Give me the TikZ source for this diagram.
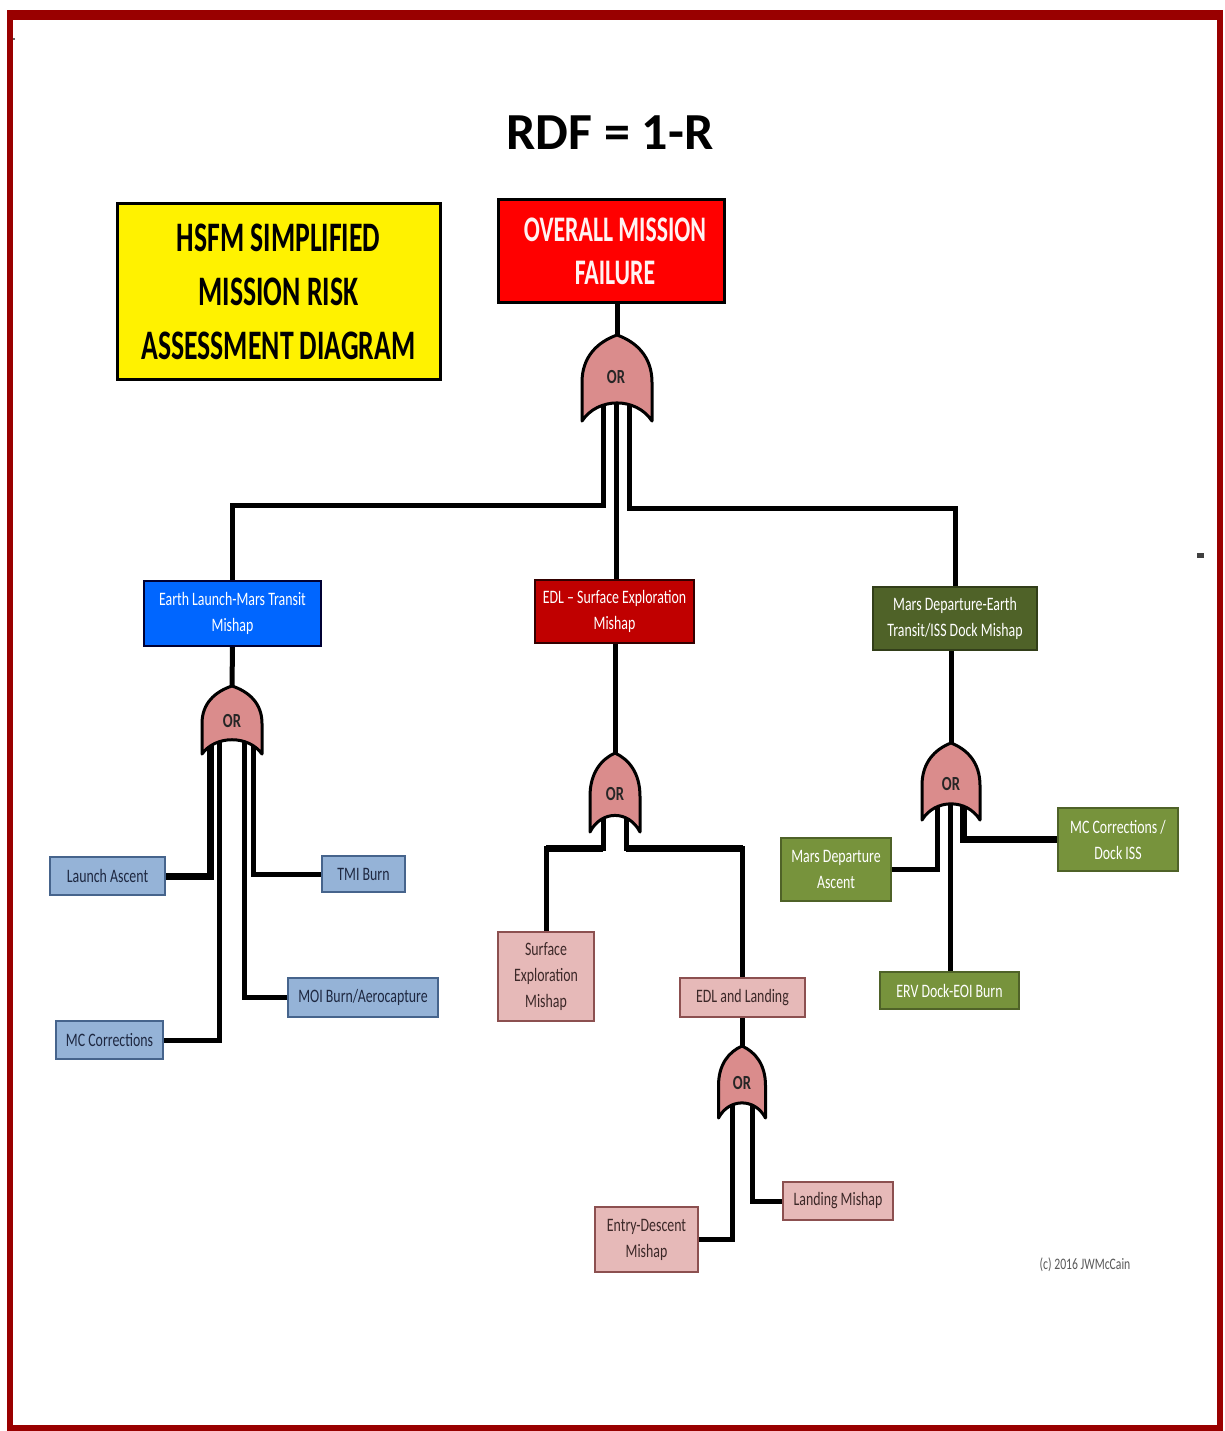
\documentclass[tikz,border=0pt]{standalone}
\usepackage{fontspec}
\setmainfont{Carlito}
\newfontfamily\condfont[FakeStretch=0.73,Ligatures=TeX]{Carlito}
\newfontfamily\headfont[FakeStretch=0.66,Ligatures=TeX]{Carlito}
\pgfdeclarelayer{bg}
\pgfsetlayers{bg,main}
\definecolor{framered}{RGB}{153,0,0}
\definecolor{lblue}{RGB}{149,179,215}
\definecolor{lblueborder}{RGB}{70,100,140}
\definecolor{lbtext}{RGB}{30,40,65}
\definecolor{pink1}{RGB}{230,185,184}
\definecolor{pinkborder}{RGB}{140,80,80}
\definecolor{pktext}{RGB}{60,40,40}
\definecolor{olive}{RGB}{119,147,60}
\definecolor{olivedark}{RGB}{79,98,40}
\definecolor{olivebord}{RGB}{50,62,25}
\definecolor{brightblue}{RGB}{0,102,255}
\definecolor{darkred}{RGB}{192,0,0}
\definecolor{gatefill}{RGB}{218,140,140}
\definecolor{paleWhite}{RGB}{255,242,242}
\tikzset{
  wire/.style={line width=5pt, draw=black},
  thickwire/.style={line width=7pt, draw=black},
  box/.style={draw, line width=1.5pt, align=center, inner sep=0pt,
    font=\condfont\fontsize{19}{26}\selectfont},
  lbbox/.style={box, fill=lblue, draw=lblueborder, text=lbtext},
  pkbox/.style={box, fill=pink1, draw=pinkborder, text=pktext},
  gnbox/.style={box, fill=olive, draw=olivedark, text=white},
  gatebody/.style={fill=gatefill, draw=black, line width=3pt, line join=round},
  ortext/.style={font=\condfont\bfseries\fontsize{20}{20}\selectfont, text=black!85}
}
% #1 cx, #2 top y, #3 half width, #4 height
\newcommand\orgate[4]{%
  \begin{scope}[shift={(#1,#2)}]
    \path[gatebody] (0,0) .. controls (-0.55*#3,0.08*#4) and (-#3,0.25*#4) .. (-#3,0.55*#4)
      -- (-#3,#4) .. controls (-0.55*#3,0.72*#4) and (0.55*#3,0.72*#4) .. (#3,#4)
      -- (#3,0.55*#4) .. controls (#3,0.25*#4) and (0.55*#3,0.08*#4) .. (0,0) -- cycle;
  \end{scope}}
\begin{document}
\begin{tikzpicture}[x=1pt,y=-1pt]
\useasboundingbox (0,0) rectangle (1225,1431);
\begin{pgfonlayer}{bg}
\fill[white] (0,0) rectangle (1225,1431);
\end{pgfonlayer}
% frame
\draw[draw=framered, line width=6pt] (10,16) rectangle (1220,1428);
\fill[framered] (7,10) rectangle (1223,20);
\fill[black!75] (1197,553) rectangle (1204,558);
\fill[black!60] (12.5,38) rectangle (14.5,40);

% title and headers
\node[font=\bfseries\fontsize{52}{52}\selectfont] (title) at (610,133) {RDF = 1-R};
\node[draw=black, line width=3pt, fill=yellow, minimum width=323pt, minimum height=175pt,
  align=center, inner sep=0pt, font=\headfont\bfseries\fontsize{42}{54}\selectfont]
  (hsfm) at (278.5,291.5) {HSFM SIMPLIFIED\\MISSION RISK\\ASSESSMENT DIAGRAM};
\node[draw=black, line width=3pt, fill=red, minimum width=226pt, minimum height=102pt,
  align=center, inner sep=0pt, text=paleWhite, font=\headfont\bfseries\fontsize{36}{43}\selectfont]
  (ovr) at (611,251) {\hspace*{8pt}OVERALL MISSION\\\hspace*{8pt}FAILURE};

% level 2 boxes
\node[box, fill=brightblue, draw=black!80!blue, text=white, minimum width=177pt, minimum height=65pt]
  (elm) at (232.5,613.5) {Earth Launch-Mars Transit\\Mishap};
\node[box, fill=darkred, draw=black!80!red, text=white, minimum width=159pt, minimum height=63pt]
  (edl) at (614.5,611.5) {EDL – Surface Exploration\\Mishap};
\node[box, fill=olivedark, draw=olivebord, text=white, minimum width=164pt, minimum height=63pt]
  (mde) at (955,618.5) {Mars Departure-Earth\\Transit/ISS Dock Mishap};

% left leaves
\node[lbbox, minimum width=115pt, minimum height=38pt] (la) at (107.5,876) {Launch Ascent};
\node[lbbox, minimum width=83pt, minimum height=36pt] (tmi) at (363.5,874) {TMI Burn};
\node[lbbox, minimum width=150pt, minimum height=39pt] (moi) at (363,997.5) {MOI Burn/Aerocapture};
\node[lbbox, minimum width=107pt, minimum height=38pt] (mcc) at (109.5,1040) {MC Corrections};

% middle leaves
\node[pkbox, minimum width=96pt, minimum height=89pt] (sem) at (546,976.5) {Surface\\Exploration\\Mishap};
\node[pkbox, minimum width=125pt, minimum height=39pt] (edland) at (742.5,997.5) {EDL and Landing};
\node[pkbox, minimum width=103pt, minimum height=65pt] (ed) at (646.5,1239.5) {Entry-Descent\\Mishap};
\node[pkbox, minimum width=110pt, minimum height=38pt] (lm) at (838,1201) {Landing Mishap};

% right leaves
\node[gnbox, minimum width=110pt, minimum height=63pt] (mda) at (836,869.5) {Mars Departure\\Ascent};
\node[gnbox, minimum width=120pt, minimum height=63pt] (mcd) at (1118,839.5) {MC Corrections /\\Dock ISS};
\node[gnbox, minimum width=139pt, minimum height=37pt] (erv) at (949.5,990.5) {ERV Dock-EOI Burn};

% gates
\orgate{617}{335}{35}{86}
\node[ortext] (G1) at (616,377) {OR};
\coordinate (G1top) at (617,335);
\coordinate (G1a) at (603,400);
\coordinate (G1b) at (616,400);
\coordinate (G1c) at (629,400);

\orgate{232}{686}{30}{68}
\node[ortext] (G2) at (232,721) {OR};
\coordinate (G2top) at (232,686);
\coordinate (G2a) at (210,735);
\coordinate (G2b) at (219,735);
\coordinate (G2c) at (244,735);
\coordinate (G2d) at (253,735);

\orgate{615}{753}{25}{79}
\node[ortext] (G3) at (615,794) {OR};
\coordinate (G3top) at (615,753);
\coordinate (G3a) at (603,815);
\coordinate (G3b) at (626,815);

\orgate{951}{743}{29}{77}
\node[ortext] (G4) at (951,784) {OR};
\coordinate (G4top) at (951,743);
\coordinate (G4a) at (937,800);
\coordinate (G4b) at (950,800);
\coordinate (G4c) at (963,800);

\orgate{742}{1046}{23.5}{72}
\node[ortext] (G5) at (742,1083) {OR};
\coordinate (G5top) at (742,1046);
\coordinate (G5a) at (732,1100);
\coordinate (G5b) at (752,1100);

\node[font=\condfont\fontsize{16}{16}\selectfont, text=black!65] (copy) at (1085,1265) {(c) 2016 JWMcCain};

\begin{pgfonlayer}{bg}
  \draw[wire] (G1top) -- (G1top |- ovr.south);
  \draw[wire] (G1a) -- ++(0,105) -| (elm.north);
  \draw[wire] (G1b) -- (G1b |- edl.north);
  \draw[wire] (G1c) -- ++(0,108) -| (mde.north);

  \draw[wire] (elm.south) -- (G2top);
  \draw[thickwire] (G2a) |- (la.east);
  \draw[wire] (G2b) |- (mcc.east);
  \draw[wire] (G2c) |- (moi.west);
  \draw[wire] (G2d) |- (tmi.west);

  \draw[wire] (G3top) -- (G3top |- edl.south);
  \draw[wire] (G3a) -- ++(0,33) -| (sem.north);
  \draw[wire] (G3b) -- ++(0,33) -| (edland.north);
  \draw[thickwire] (G3a |- 0,848) -- (sem.north |- 0,848);
  \draw[thickwire] (G3b |- 0,848) -- (edland.north |- 0,848);

  \draw[wire] (G5top) -- (G5top |- edland.south);
  \draw[wire] (G5a) |- (ed.east);
  \draw[wire] (G5b) |- (lm.west);

  \draw[wire] (G4top) -- (G4top |- mde.south);
  \draw[wire] (G4a) |- (mda.east);
  \draw[wire] (G4b) -- (G4b |- erv.north);
  \draw[thickwire] (G4c) |- (mcd.west);
\end{pgfonlayer}
\end{tikzpicture}
\end{document}
